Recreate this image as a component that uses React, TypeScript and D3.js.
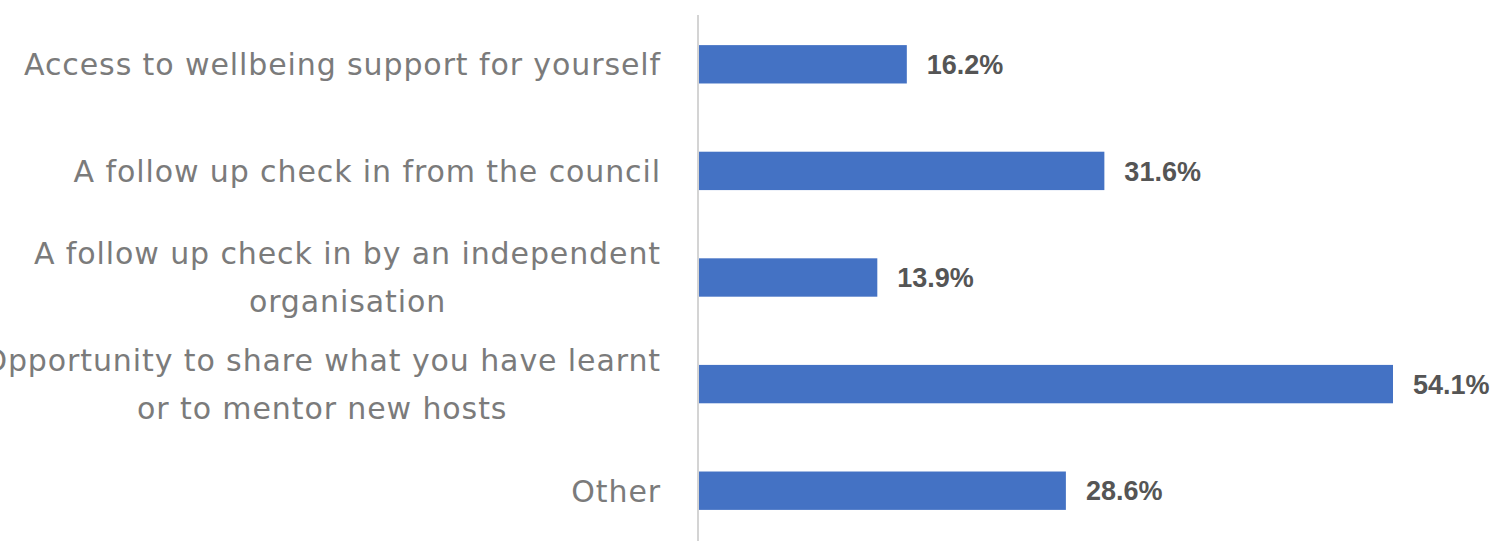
import React, { useEffect, useRef } from 'react';
import * as d3 from 'd3';

const categories = [
    'Access to wellbeing support for yourself',
    'A follow up check in from the council',
    'A follow up check in by an independent\norganisation',
    'Opportunity to share what you have learnt\nor to mentor new hosts',
    'Other'
];
const values = [16.2, 31.6, 13.9, 54.1, 28.6];
const valueLabels = ['16.2%', '31.6%', '13.9%', '54.1%', '28.6%'];

export default function App() {
    const ref = useRef<SVGSVGElement>(null);

    useEffect(() => {
        const svg = d3.select(ref.current);
        svg.selectAll('*').remove();

        const axisX = 698;

        const y = d3.scaleBand()
            .domain(categories)
            .range([11, 544])
            .paddingInner(0.64)
            .paddingOuter(0.32);

        const x = d3.scaleLinear()
            .domain([0, 54.1])
            .range([axisX + 1, 1393]);

        // bars
        svg.selectAll('rect.bar')
            .data(values)
            .enter()
            .append('rect')
            .attr('class', 'bar')
            .attr('x', x(0))
            .attr('y', (d, i) => y(categories[i]) as number)
            .attr('width', d => x(d) - x(0))
            .attr('height', y.bandwidth())
            .attr('fill', '#4472c4');

        // vertical axis line
        svg.append('line')
            .attr('x1', axisX).attr('x2', axisX)
            .attr('y1', 15).attr('y2', 541)
            .attr('stroke', '#d4d4d4')
            .attr('stroke-width', 2);

        // value labels
        svg.selectAll('text.val')
            .data(values)
            .enter()
            .append('text')
            .attr('class', 'val')
            .attr('x', d => x(d) + 20)
            .attr('y', (d, i) => (y(categories[i]) as number) + y.bandwidth() / 2)
            .attr('dy', '0.36em')
            .attr('font-family', 'Liberation Sans, Arial, sans-serif')
            .attr('font-weight', 'bold')
            .attr('font-size', 27)
            .attr('fill', '#555555')
            .text((d, i) => valueLabels[i]);

        // category labels (multi-line ones are centred on their longest line)
        categories.forEach((c, i) => {
            const lines = c.split('\n');
            const cy = (y(c) as number) + y.bandwidth() / 2;
            const g = svg.append('g');
            const texts = lines.map((ln, j) =>
                g.append('text')
                    .attr('y', cy + (j - (lines.length - 1) / 2) * 48)
                    .attr('dy', '0.36em')
                    .attr('text-anchor', 'middle')
                    .attr('font-family', 'DejaVu Sans, sans-serif')
                    .attr('font-size', 30)
                    .attr('letter-spacing', 0.9)
                    .attr('fill', '#7b7b7b')
                    .text(ln)
            );
            const maxW = d3.max(texts, t => (t.node() as SVGTextElement).getComputedTextLength()) || 0;
            texts.forEach(t => t.attr('x', 661 - maxW / 2));
        });
    }, []);

    return (
        <div style={{ position: 'absolute', left: 0, top: 0 }}>
            <svg ref={ref} width={1502} height={554} style={{ display: 'block', background: '#fff' }} />
        </div>
    );
}
